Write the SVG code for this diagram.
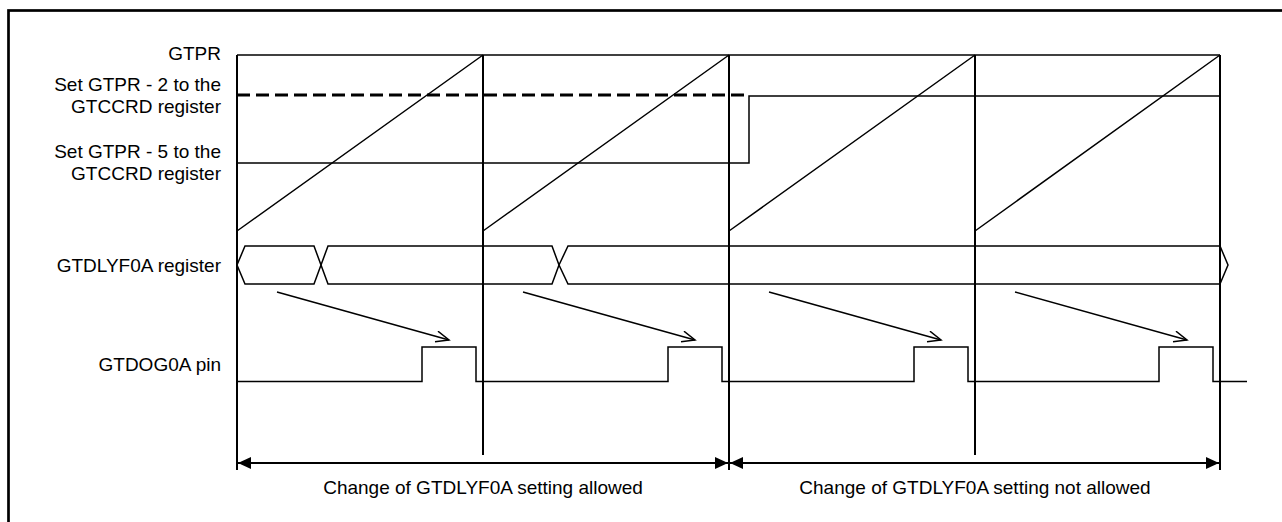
<svg xmlns="http://www.w3.org/2000/svg" width="1282" height="522" viewBox="0 0 1282 522">
  <style>
    .lbl { font-family: "Liberation Sans", Arial, sans-serif; font-size: 19px; fill: #000; }
    .r { text-anchor: end; }
    .c { text-anchor: middle; }
    .sig { fill: none; stroke: #000; stroke-width: 1.5; }
    .grid { fill: none; stroke: #000; stroke-width: 2; }
    .dash { fill: none; stroke: #000; stroke-width: 3; stroke-dasharray: 13 6; }
  </style>
  <defs>
    <marker id="open" markerUnits="userSpaceOnUse" markerWidth="16" markerHeight="14" refX="14" refY="6" orient="auto">
      <path d="M1,0.5 L14,6 L1,11.5" fill="none" stroke="#000" stroke-width="1.5"/>
    </marker>
    <marker id="solid" markerUnits="userSpaceOnUse" markerWidth="14" markerHeight="13" refX="13" refY="6" orient="auto-start-reverse">
      <path d="M0,0 L13,6 L0,12 Z" fill="#000"/>
    </marker>
  </defs>

  <rect x="8.5" y="10.5" width="1300" height="600" fill="#fff" stroke="#000" stroke-width="2.7"/>

  <g id="labels">
    <text class="lbl r" x="221" y="60">GTPR</text>
    <text class="lbl r" x="221" y="90.5">Set GTPR - 2 to the</text>
    <text class="lbl r" x="221" y="112.5">GTCCRD register</text>
    <text class="lbl r" x="221" y="158">Set GTPR - 5 to the</text>
    <text class="lbl r" x="221" y="180">GTCCRD register</text>
    <text class="lbl r" x="221" y="272">GTDLYF0A register</text>
    <text class="lbl r" x="221" y="371">GTDOG0A pin</text>
  </g>

  <g id="grid">
    <path class="grid" d="M237,55 V470 M483,55 V455 M729,55 V470 M975,55 V455 M1220,55 V470"/>
  </g>

  <g id="gtpr">
    <path class="sig" d="M237,55 H1220"/>
    <path class="sig" d="M237,231 L483,55 M483,231 L729,55 M729,231 L975,55 M975,231 L1220,55"/>
  </g>

  <g id="gtccrd">
    <path class="dash" d="M237,95 H747"/>
    <path class="sig" d="M237,163 H749 V96 H1220"/>
  </g>

  <g id="gtdlyf0a">
    <path class="sig" d="M237,265 L245,246 H314 L321,265 L314,284 H245 Z"/>
    <path class="sig" d="M321,265 L328,246 H552 L559,265 L552,284 H328 Z"/>
    <path class="sig" d="M559,265 L568,246 H1220 L1228,265 L1220,284 H568 Z"/>
  </g>

  <g id="gtdog0a">
    <path class="sig" d="M237,381.5 H422 V347 H476 V381.5 H668 V347 H722 V381.5 H914 V347 H968 V381.5 H1159 V347 H1213 V381.5 H1247"/>
  </g>

  <g id="connectors">
    <line class="sig" x1="277" y1="292" x2="449" y2="340" marker-end="url(#open)"/>
    <line class="sig" x1="523" y1="292" x2="695" y2="340" marker-end="url(#open)"/>
    <line class="sig" x1="769" y1="292" x2="941" y2="340" marker-end="url(#open)"/>
    <line class="sig" x1="1015" y1="292" x2="1187" y2="340" marker-end="url(#open)"/>
    <line class="grid" x1="238" y1="463" x2="728" y2="463" marker-start="url(#solid)" marker-end="url(#solid)"/>
    <line class="grid" x1="730" y1="463" x2="1219" y2="463" marker-start="url(#solid)" marker-end="url(#solid)"/>
  </g>

  <g id="ranges">
    <text class="lbl c" x="483" y="494">Change of GTDLYF0A setting allowed</text>
    <text class="lbl c" x="975" y="494">Change of GTDLYF0A setting not allowed</text>
  </g>
</svg>
